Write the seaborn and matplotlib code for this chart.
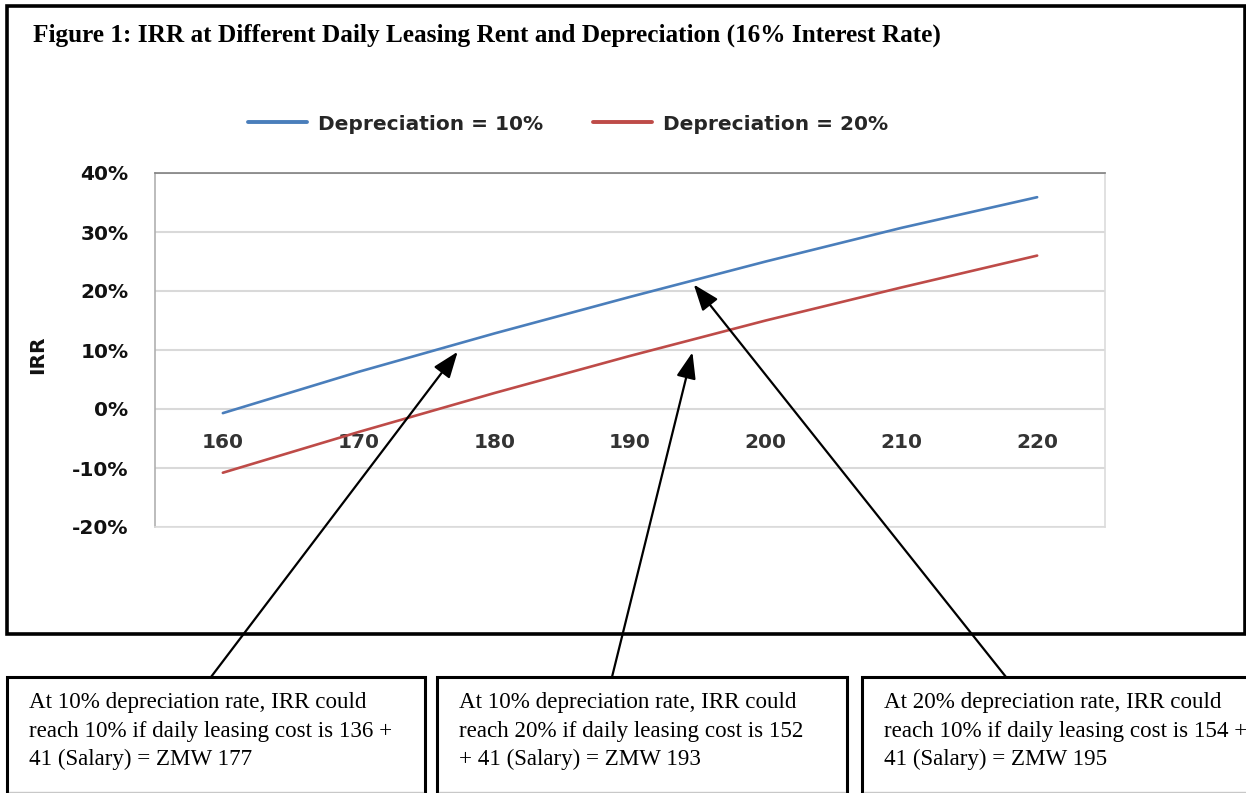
import matplotlib
matplotlib.use("Agg")
import matplotlib.pyplot as plt
import seaborn as sns
import pandas as pd
from matplotlib.patches import Rectangle
from matplotlib.lines import Line2D
from matplotlib.ticker import FixedLocator, FuncFormatter

# ---- data ----
rent = [160, 170, 180, 190, 200, 210, 220]
irr_dep10 = [-0.007, 0.063, 0.128, 0.190, 0.250, 0.307, 0.359]
irr_dep20 = [-0.108, -0.039, 0.027, 0.090, 0.150, 0.206, 0.260]
series_names = ["Depreciation = 10%", "Depreciation = 20%"]
series_colors = ["#4A7EBB", "#BE4B48"]
y_ticks = [-0.2, -0.1, 0.0, 0.1, 0.2, 0.3, 0.4]

title_text = "Figure 1: IRR at Different Daily Leasing Rent and Depreciation (16% Interest Rate)"
y_label = "IRR"

note_lines = [
    ["At 10% depreciation rate, IRR could",
     "reach 10% if daily leasing cost is 136 +",
     "41 (Salary) = ZMW 177"],
    ["At 10% depreciation rate, IRR could",
     "reach 20% if daily leasing cost is 152",
     "+ 41 (Salary) = ZMW 193"],
    ["At 20% depreciation rate, IRR could",
     "reach 10% if daily leasing cost is 154 +",
     "41 (Salary) = ZMW 195"],
]
# points on the curves each note's arrow points to (rent, IRR)
arrow_targets = [(177.3, 0.097), (194.6, 0.096), (194.7, 0.211)]

# ---- figure geometry (pixels) ----
W, H = 1246, 793


def fx(px):
    return px / W


def fy(py):
    return 1 - py / H


sns.set_theme(style="white")
plt.rcParams["font.family"] = ["DejaVu Sans"]

fig = plt.figure(figsize=(W / 100, H / 100), dpi=100)
fig.patch.set_facecolor("white")

ax_left, ax_right, ax_top, ax_bottom = 155, 1105, 173, 527
ax = fig.add_axes([fx(ax_left), fy(ax_bottom), (ax_right - ax_left) / W, (ax_bottom - ax_top) / H])

df = pd.DataFrame({
    "rent": rent * 2,
    "irr": irr_dep10 + irr_dep20,
    "series": [series_names[0]] * len(rent) + [series_names[1]] * len(rent),
})
sns.lineplot(data=df, x="rent", y="irr", hue="series",
             palette=dict(zip(series_names, series_colors)),
             linewidth=1.9, ax=ax, legend=True)

ax.set_xlim(155, 225)
ax.set_ylim(-0.2, 0.4)
ax.yaxis.set_major_locator(FixedLocator(y_ticks))
ax.yaxis.set_major_formatter(FuncFormatter(lambda v, p: f"{v * 100:.0f}%"))
ax.grid(axis="y", color="#d9d9d9", linewidth=1.5)
ax.grid(axis="x", visible=False)
ax.set_axisbelow(True)
ax.tick_params(axis="y", length=0, pad=19, labelsize=14.5, labelcolor="#111111")
for lab in ax.get_yticklabels():
    lab.set_fontweight("bold")
ax.tick_params(axis="x", bottom=False, labelbottom=False)
ax.set_xlabel("")
ax.set_ylabel(y_label, fontsize=14.5, fontweight="bold", color="#111111")
ax.yaxis.set_label_coords((47 - ax_left) / (ax_right - ax_left), (ax_bottom - 355) / (ax_bottom - ax_top))

ax.spines["left"].set_color("#b0b0b0")
ax.spines["top"].set_color("#808080")
ax.spines["right"].set_color("#dcdcdc")
ax.spines["bottom"].set_color("#dcdcdc")
for s in ax.spines.values():
    s.set_linewidth(1.2)

# category labels sit next to the zero line
sec = ax.secondary_xaxis((0 - y_ticks[0]) / (y_ticks[-1] - y_ticks[0]))
sec.set_xticks(rent)
sec.set_xticklabels([str(r) for r in rent])
sec.tick_params(axis="x", length=0, pad=17, labelsize=14.5, labelcolor="#333333")
for lab in sec.get_xticklabels():
    lab.set_fontweight("bold")
sec.spines["bottom"].set_visible(False)

# legend above the plot
handles, labels = ax.get_legend_handles_labels()
ax.get_legend().remove()
leg = fig.legend(handles, labels, loc="center", bbox_to_anchor=(fx(568), fy(124)),
                 ncol=2, frameon=False, handlelength=2.9, handletextpad=0.55,
                 columnspacing=2.5, prop={"family": "DejaVu Sans", "weight": "bold", "size": 14.5})
for h in leg.legend_handles:
    h.set_linewidth(2.8)

# outer frame of the figure panel
fig.add_artist(Rectangle((fx(7), fy(634)), fx(1245) - fx(7), fy(6) - fy(634),
                         transform=fig.transFigure, fill=False, edgecolor="black", linewidth=2.6))

fig.text(fx(33), fy(42), title_text, fontsize=18.2, fontweight="bold",
         family="Liberation Serif", va="baseline", ha="left", color="black")

# note boxes below the panel
box_edges = [(7, 425), (437, 847), (862, 1262)]
baselines = [708, 737, 765]
for (bl, br), lines in zip(box_edges, note_lines):
    fig.add_artist(Rectangle((fx(bl), fy(800)), fx(br) - fx(bl), fy(677) - fy(800),
                             transform=fig.transFigure, facecolor="white",
                             edgecolor="black", linewidth=2.2))
    fig.add_artist(Line2D([fx(bl + 2), fx(br - 2)], [fy(791.5), fy(791.5)],
                          transform=fig.transFigure, color="#c8c8c8", linewidth=1.0))
    for line, yb in zip(lines, baselines):
        fig.text(fx(bl + 22), fy(yb), line, fontsize=16.6, family="Liberation Serif",
                 va="baseline", ha="left", color="black")

# arrows from the note boxes to the curves
tails = [(211, 677), (612, 677), (1006, 677)]
for (tx, ty), (rx, ry) in zip(tails, arrow_targets):
    ann = ax.annotate("", xy=(rx, ry), xycoords="data",
                      xytext=(tx, H - ty), textcoords="figure pixels",
                      arrowprops=dict(arrowstyle="-|>,head_length=0.8,head_width=0.3",
                                      color="black", lw=1.6, mutation_scale=20,
                                      shrinkA=0, shrinkB=0),
                      annotation_clip=False)
    ann.set_zorder(10)

fig.savefig("out.png", dpi=100)
